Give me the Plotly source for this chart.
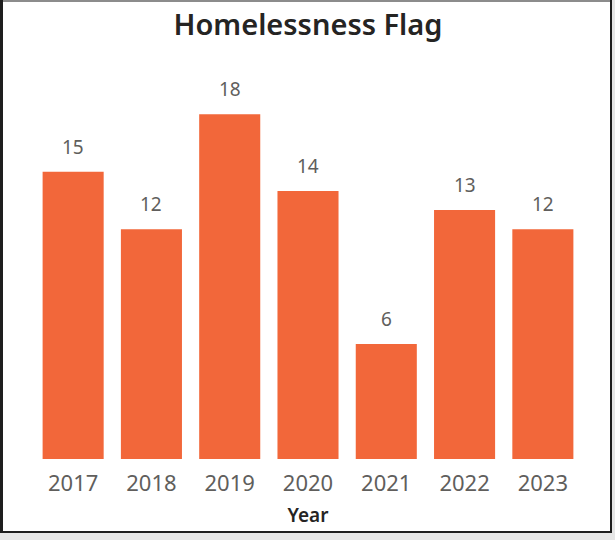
import plotly.graph_objects as go

years = ["2017", "2018", "2019", "2020", "2021", "2022", "2023"]
counts = [15, 12, 18, 14, 6, 13, 12]

W, H = 615, 540
L, R, T, B = 34, 33, 76, 81
PW, PH = W - L - R, H - T - B

def px(x):
    return (x - L) / PW

def py(y):
    return (H - B - y) / PH

fig = go.Figure(go.Bar(
    x=years, y=counts,
    marker=dict(color="#F2673A", line=dict(width=0)),
    hoverinfo="skip",
))

# on a category axis, a numeric x is the category's index
for i, v in enumerate(counts):
    fig.add_annotation(x=i, y=v, xref="x", yref="y", text=str(v), showarrow=False,
                       yanchor="middle", yshift=25,
                       font=dict(family="Noto Sans", size=19, color="#605E5C"))

shapes = [
    dict(type="rect", xref="paper", yref="paper", x0=px(0), x1=px(W), y0=py(H), y1=py(533),
         fillcolor="#E6E6E6", line=dict(width=0), layer="below"),
    dict(type="rect", xref="paper", yref="paper", x0=px(612), x1=px(W), y0=py(H), y1=py(0),
         fillcolor="#E6E6E6", line=dict(width=0), layer="below"),
    dict(type="line", xref="paper", yref="paper", x0=px(0), x1=px(612), y0=py(1), y1=py(1),
         line=dict(color="#8C8C8C", width=2)),
    dict(type="line", xref="paper", yref="paper", x0=px(1.5), x1=px(1.5), y0=py(0), y1=py(533),
         line=dict(color="#1E1E1E", width=3)),
    dict(type="line", xref="paper", yref="paper", x0=px(611), x1=px(611), y0=py(0), y1=py(533),
         line=dict(color="#1E1E1E", width=2)),
    dict(type="line", xref="paper", yref="paper", x0=px(0), x1=px(612), y0=py(532), y1=py(532),
         line=dict(color="#1E1E1E", width=2)),
]

fig.update_layout(
    width=W, height=H,
    margin=dict(l=L, r=R, t=T, b=B),
    paper_bgcolor="white", plot_bgcolor="white",
    bargap=0.22,
    showlegend=False,
    title=dict(text="Homelessness Flag", x=0.5, xref="paper", xanchor="center",
               y=1 - 25 / H, yanchor="middle", yref="container",
               font=dict(family="Noto Sans", size=29, color="#252423", weight=600)),
    xaxis=dict(type="category", showgrid=False, zeroline=False, showline=False,
               ticks="outside", ticklen=5, tickcolor="rgba(0,0,0,0)",
               tickfont=dict(family="Noto Sans", size=22, color="#605E5C"),
               title=dict(text="Year", standoff=12,
                          font=dict(family="Noto Sans", size=19, color="#252423", weight=600))),
    yaxis=dict(range=[0, 20], visible=False, showgrid=False, zeroline=False),
    shapes=shapes,
)

fig.write_html("out.html", config={"displayModeBar": False},
               post_script="document.body.style.margin='0';")
